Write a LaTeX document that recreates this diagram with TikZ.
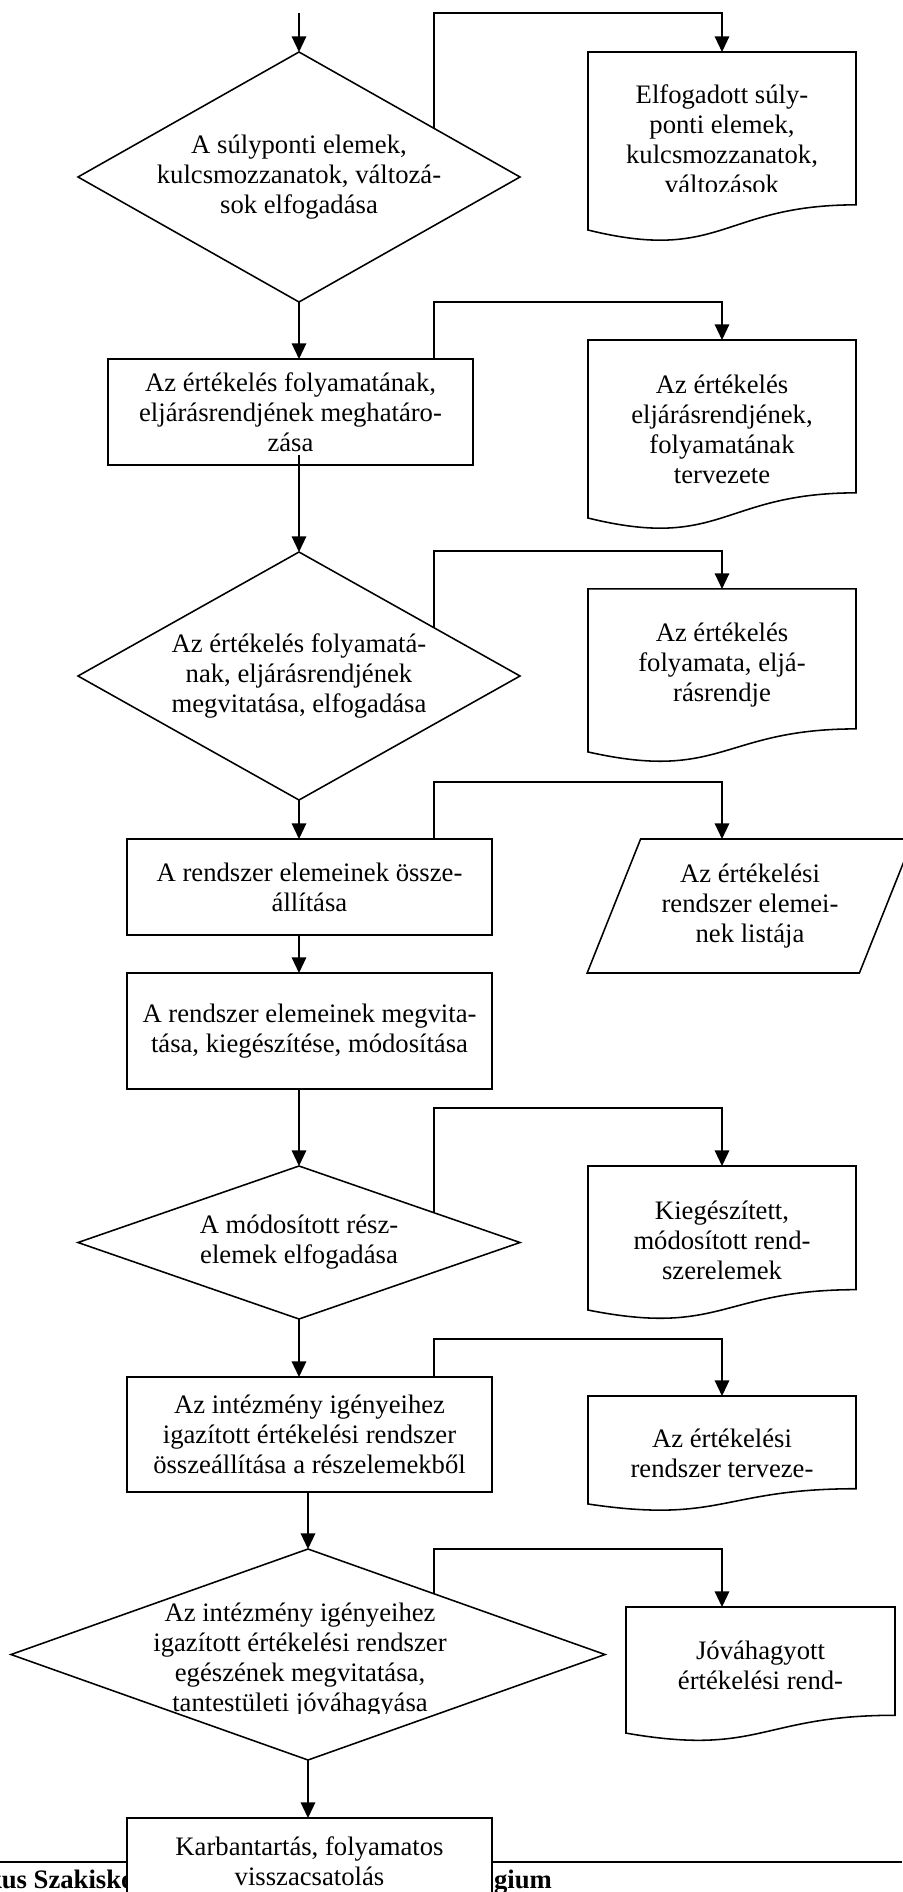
\documentclass[tikz,border=0pt]{standalone}
\usepackage{fontspec}
\setmainfont{Liberation Serif}
\usepackage{tikz}
\usetikzlibrary{arrows.meta,positioning,shapes.geometric,calc}
\newcommand{\ertku}{0.45pt}
\newcommand{\ertkfont}{\fontsize{12}{13.5}\selectfont}
\tikzset{
  ertkline/.style={line width=0.7pt},
  ertkbox/.style={draw, ertkline, rectangle, align=center, inner sep=2pt, outer sep=0pt, fill=white, font=\ertkfont, minimum width=365*\ertku},
  ertkdecision/.style={draw, ertkline, diamond, align=center, inner sep=-10pt, outer sep=0pt, font=\ertkfont},
  ertkdoc/.style={rectangle, inner sep=0pt, outer sep=0pt, minimum width=268*\ertku},
  ertktext/.style={align=center, inner sep=0pt, outer sep=0pt, font=\ertkfont},
  ertkdata/.style={draw, ertkline, trapezium, trapezium left angle=64, trapezium right angle=116, trapezium stretches=true, align=center, inner sep=2pt, outer sep=0pt, font=\ertkfont},
  ertkarrow/.style={ertkline, -{Triangle[length=7pt,width=6.5pt]}},
  ertkfoot/.style={font=\ertkfont\bfseries, inner sep=0pt, outer sep=0pt}
}
% outline of a document symbol drawn round a named node
\newcommand{\ertkdocframe}[1]{%
  \draw[ertkline] (#1.north west) -- (#1.north east)
    -- ($(#1.north east)!0.802!(#1.south east)$)
    .. controls ($(#1.north)!0.802!(#1.south)$) and ($(#1.north)!1.1075!(#1.south)$)
    .. ($(#1.north west)!0.934!(#1.south west)$) -- cycle;}

\begin{document}
\begin{tikzpicture}[x=0.45pt, y=-0.45pt]
\useasboundingbox (0,0) rectangle (902,1892);
\coordinate (entry) at (299,13);
\coordinate (rcol) at (722,0);

% page footer
\draw[line width=0.75pt] (0,1862) -- (902,1862);
\node[ertkfoot, anchor=base west] (footLeft) at (-13,1888) {kus Szakisko};
\node[ertkfoot, anchor=base west] (footRight) at (494,1888) {gium};

% main column
\node[ertkdecision, minimum width=442*\ertku, minimum height=250*\ertku, shape aspect=1.77] (dAccept) at (299,177) {A súlyponti elemek,\\kulcsmozzanatok, változá-\\sok elfogadása};
\node[ertkbox, minimum height=106*\ertku] (bProcedure) at (290.5,412) {Az értékelés folyamatának,\\eljárásrendjének meghatáro-\\zása};
\node[ertkdecision, minimum width=442*\ertku, minimum height=248*\ertku, shape aspect=1.78] (dProcedure) at (299,676) {Az értékelés folyamatá-\\nak, eljárásrendjének\\megvitatása, elfogadása};
\node[ertkbox, minimum height=96*\ertku] (bElements) at (309.5,887) {A rendszer elemeinek össze-\\állítása};
\node[ertkbox, minimum height=116*\ertku] (bDebate) at (309.5,1031) {A rendszer elemeinek megvita-\\tása, kiegészítése, módosítása};
\node[ertkdecision, minimum width=442*\ertku, minimum height=153*\ertku, shape aspect=2.89] (dModified) at (299,1242.5) {A módosított rész-\\elemek elfogadása};
\node[ertkbox, minimum height=115*\ertku] (bAssemble) at (309.5,1434.5) {Az intézmény igényeihez\\igazított értékelési rendszer\\összeállítása a részelemekből};
\node[ertkdecision, minimum width=594*\ertku, minimum height=211*\ertku, shape aspect=2.82] (dApprove) at (308,1654.5) {};
\begin{scope}
  \clip (0,0) rectangle (902,1713);
  \node[ertktext] (dApproveText) at ([xshift=-8*\ertku, yshift=-5.5*\ertku]dApprove.center) {Az intézmény igényeihez\\igazított értékelési rendszer\\egészének megvitatása,\\tantestületi jóváhagyása};
\end{scope}
\node[ertkbox, minimum height=86*\ertku] (bMaintain) at (309.5,1861) {Karbantartás, folyamatos\\visszacsatolás};

% documents on the right
\node[ertkdoc, minimum height=190.6*\ertku] (docAccepted) at (722,147.3) {};
\node[ertkdoc, minimum height=190.6*\ertku] (docDraft) at (722,435.3) {};
\node[ertkdoc, minimum height=174.5*\ertku] (docProcedure) at (722,676.2) {};
\node[ertkdata, minimum width=326*\ertku, minimum height=134*\ertku] (dataList) at (750,906) {Az értékelési\\rendszer elemei-\\nek listája};
\node[ertkdoc, minimum height=154.2*\ertku] (docModified) at (722,1243.1) {};
\node[ertkdoc, minimum height=115.6*\ertku] (docSystem) at (722,1453.8) {};
\node[ertkdoc, minimum height=135*\ertku, minimum width=269*\ertku] (docApproved) at (760.5,1674.5) {};
\ertkdocframe{docAccepted}
\ertkdocframe{docDraft}
\ertkdocframe{docProcedure}
\ertkdocframe{docModified}
\ertkdocframe{docSystem}
\ertkdocframe{docApproved}

\begin{scope}
  \clip (0,0) rectangle (902,192);
  \node[ertktext] (docAcceptedText) at ([yshift=7.8*\ertku]docAccepted.center) {Elfogadott súly-\\ponti elemek,\\kulcsmozzanatok,\\változások};
\end{scope}
\node[ertktext] (docDraftText) at ([yshift=5.8*\ertku]docDraft.center) {Az értékelés\\eljárásrendjének,\\folyamatának\\tervezete};
\node[ertktext] (docProcedureText) at ([yshift=11.2*\ertku]docProcedure.center) {Az értékelés\\folyamata, eljá-\\rásrendje};
\node[ertktext] (docModifiedText) at ([yshift=3*\ertku]docModified.center) {Kiegészített,\\módosított rend-\\szerelemek};
\node[ertktext] (docSystemText) at (docSystem.center) {Az értékelési\\rendszer terveze-};
\node[ertktext] (docApprovedText) at ([yshift=9.5*\ertku]docApproved.center) {Jóváhagyott\\értékelési rend-};

% main flow
\draw[ertkarrow] (entry) -- (dAccept.north);
\draw[ertkarrow] (dAccept.south) -- (dAccept.south |- bProcedure.north);
\draw[ertkarrow] ([yshift=10*\ertku]bProcedure.south -| dProcedure.north) -- (dProcedure.north);
\draw[ertkarrow] (dProcedure.south) -- (dProcedure.south |- bElements.north);
\draw[ertkarrow] (bElements.south -| dProcedure.south) -- (bDebate.north -| dProcedure.south);
\draw[ertkarrow] (bDebate.south -| dModified.north) -- (dModified.north);
\draw[ertkarrow] (dModified.south) -- (dModified.south |- bAssemble.north);
\draw[ertkarrow] (bAssemble.south -| dApprove.north) -- (dApprove.north);
\draw[ertkarrow] (dApprove.south) -- (dApprove.south |- bMaintain.north);

% side outputs
\draw[ertkarrow] ($(dAccept.north)!0.611!(dAccept.east)$) |- ([yshift=39*\ertku]docAccepted.north) -- (docAccepted.north);
\draw[ertkarrow] ([xshift=143.5*\ertku]bProcedure.north) |- ([yshift=38*\ertku]docDraft.north) -- (docDraft.north);
\draw[ertkarrow] ($(dProcedure.north)!0.611!(dProcedure.east)$) |- ([yshift=38*\ertku]docProcedure.north) -- (docProcedure.north);
\draw[ertkarrow] ([xshift=124.5*\ertku]bElements.north) |- ([yshift=57*\ertku]rcol |- dataList.north) -- (rcol |- dataList.north);
\draw[ertkarrow] ($(dModified.north)!0.611!(dModified.east)$) |- ([yshift=58*\ertku]docModified.north) -- (docModified.north);
\draw[ertkarrow] ([xshift=124.5*\ertku]bAssemble.north) |- ([yshift=57*\ertku]docSystem.north) -- (docSystem.north);
\draw[ertkarrow] ($(dApprove.north)!0.424!(dApprove.east)$) |- ([yshift=58*\ertku]rcol |- docApproved.north) -- (rcol |- docApproved.north);
\end{tikzpicture}
\end{document}
